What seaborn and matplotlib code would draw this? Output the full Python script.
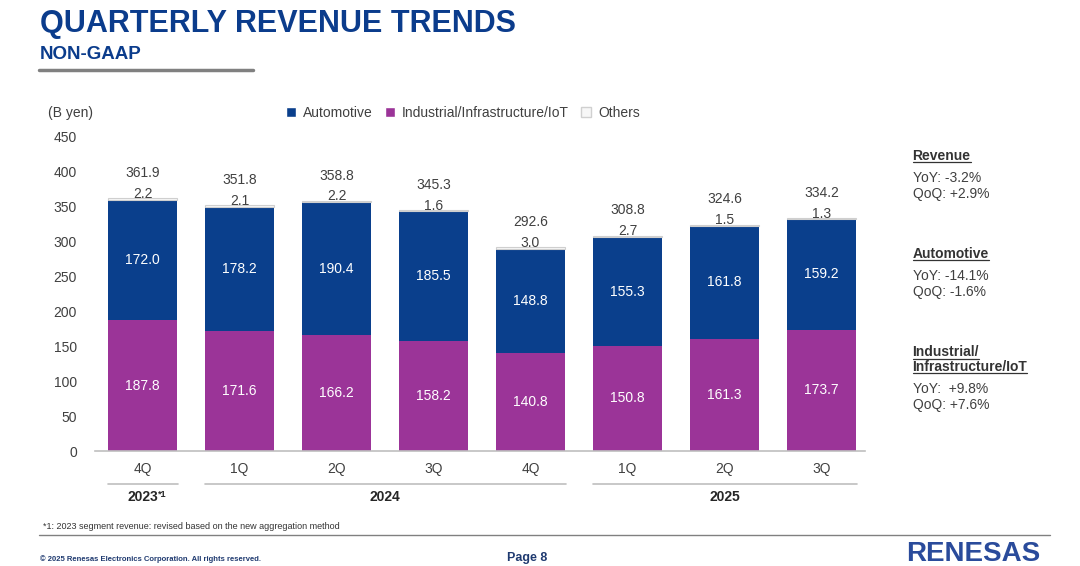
import matplotlib
matplotlib.use("Agg")
import matplotlib.pyplot as plt
import matplotlib.transforms as mtransforms
from matplotlib.lines import Line2D
from matplotlib.patches import Patch
import seaborn as sns
import pandas as pd

# ---- data ----
periods = ["4Q23", "1Q24", "2Q24", "3Q24", "4Q24", "1Q25", "2Q25", "3Q25"]
quarter_labels = ["4Q", "1Q", "2Q", "3Q", "4Q", "1Q", "2Q", "3Q"]
industrial = [187.8, 171.6, 166.2, 158.2, 140.8, 150.8, 161.3, 173.7]
automotive = [172.0, 178.2, 190.4, 185.5, 148.8, 155.3, 161.8, 159.2]
others = [2.2, 2.1, 2.2, 1.6, 3.0, 2.7, 1.5, 1.3]
totals = [361.9, 351.8, 358.8, 345.3, 292.6, 308.8, 324.6, 334.2]
year_names = ["2023", "2024", "2025"]
year_spans = [(0, 0), (1, 4), (5, 7)]
yticks = [0, 50, 100, 150, 200, 250, 300, 350, 400, 450]

side_notes = [
    ("Revenue", ["YoY: -3.2%", "QoQ: +2.9%"]),
    ("Automotive", ["YoY: -14.1%", "QoQ: -1.6%"]),
    ("Industrial/\nInfrastructure/IoT", ["YoY:  +9.8%", "QoQ: +7.6%"]),
]

BLUE = "#0a3f8c"
PURPLE = "#9b3498"
OTHER = "#f7f7f7"
TXT = "#404040"
TITLE_BLUE = "#0b3c8c"

df = pd.DataFrame({"period": periods, "ind": industrial, "auto": automotive, "oth": others})
df["ind_auto"] = df["ind"] + df["auto"]

sns.set_theme(style="white")
plt.rcParams["font.family"] = ["Liberation Sans", "DejaVu Sans"]
NARROW = ["Liberation Sans Narrow", "Liberation Sans", "DejaVu Sans"]

fig = plt.figure(figsize=(10.8, 5.66), dpi=100)
ax = fig.add_axes([0.088, 0.203, 0.713, 0.555])

w = 0.71
sns.barplot(data=df, x="period", y="ind", color=PURPLE, width=w, ax=ax,
            saturation=1, linewidth=0)
sns.barplot(data=df, x="period", y="auto", bottom=df["ind"], color=BLUE, width=w,
            ax=ax, saturation=1, linewidth=0)
sns.barplot(data=df, x="period", y="oth", bottom=df["ind_auto"], color=OTHER, width=w,
            ax=ax, saturation=1, linewidth=0.8, edgecolor="#cfcfcf")

ax.set_ylim(0, 450)
ax.set_xlim(-0.49, 7.45)
ax.set_yticks(yticks)
ax.set_yticklabels([str(v) for v in yticks], fontsize=10, color=TXT)
ax.set_xticks(range(len(periods)))
ax.set_xticklabels(quarter_labels, fontsize=10, color=TXT)
ax.tick_params(axis="y", length=0, pad=13)
ax.tick_params(axis="x", length=0, pad=8)
ax.set_xlabel("")
ax.set_ylabel("")
for s in ["top", "right", "left"]:
    ax.spines[s].set_visible(False)
ax.spines["bottom"].set_color("#bfbfbf")
ax.spines["bottom"].set_linewidth(1.2)

# value labels
for i in range(len(periods)):
    ax.text(i, industrial[i] / 2, f"{industrial[i]:.1f}", ha="center", va="center",
            color="white", fontsize=10)
    ax.text(i, industrial[i] + automotive[i] / 2, f"{automotive[i]:.1f}", ha="center",
            va="center", color="white", fontsize=10)
    top = industrial[i] + automotive[i] + others[i]
    ax.annotate(f"{others[i]:.1f}", (i, top), xytext=(0, -2), textcoords="offset points",
                ha="center", va="bottom", color=TXT, fontsize=10)
    ax.annotate(f"{totals[i]:.1f}", (i, top), xytext=(0, 13), textcoords="offset points",
                ha="center", va="bottom", color=TXT, fontsize=10)

# year groups
trans = mtransforms.blended_transform_factory(ax.transData, ax.transAxes)
for name, (a, b) in zip(year_names, year_spans):
    ax.add_line(Line2D([a - 0.36, b + 0.37], [-0.105, -0.105], transform=trans,
                       color="#bfbfbf", lw=1.2, clip_on=False))
    t = ax.text((a + b) / 2, -0.145, name, transform=trans, ha="center", va="center",
                fontsize=10, fontweight="bold", color="#262626", family=NARROW)
    if name == "2023":
        ax.annotate("*1", xy=(1, 1), xycoords=t, ha="left", va="top", fontsize=6.5,
                    fontweight="bold", color="#262626")

# legend
handles = [Patch(facecolor=BLUE), Patch(facecolor=PURPLE),
           Patch(facecolor=OTHER, edgecolor="#d0d0d0")]
fig.legend(handles, ["Automotive", "Industrial/Infrastructure/IoT", "Others"],
           loc="center", bbox_to_anchor=(0.4287, 0.8), ncol=3, frameon=False,
           fontsize=10, handlelength=0.7, handleheight=0.7, handletextpad=0.5,
           columnspacing=0.9, labelcolor=TXT)
fig.text(0.044, 0.8, "(B yen)", fontsize=10, color=TXT, va="center")

# title block
fig.text(0.037, 0.958, "QUARTERLY REVENUE TRENDS", fontsize=22, fontweight="bold",
         color=TITLE_BLUE, va="center", family=NARROW)
fig.text(0.037, 0.903, "NON-GAAP", fontsize=13.5, fontweight="bold", color=TITLE_BLUE,
         va="center", family=NARROW)
fig.add_artist(Line2D([0.036, 0.234], [0.876, 0.876], color="#808080", lw=2.5))

# side notes
ys = [0.737, 0.563, 0.390]
for (head, lines), y in zip(side_notes, ys):
    h = fig.text(0.845, y, head, fontsize=10, fontweight="bold", color="#333333",
                 va="top", linespacing=1.1)
    n_head = head.count("\n") + 1
    body_y = y - 0.026 * n_head - 0.013
    fig.text(0.845, body_y, "\n".join(lines), fontsize=10, color=TXT, va="top",
             linespacing=1.15)
    fig.canvas.draw()
    r = fig.canvas.get_renderer()
    bb = h.get_window_extent(r).transformed(fig.transFigure.inverted())
    # underline each heading line
    step = (bb.y1 - bb.y0) / n_head
    for k in range(n_head):
        yy = bb.y1 - step * (k + 1) + 0.002
        tmp = fig.text(0, 0, head.split("\n")[k], fontsize=10, fontweight="bold")
        lw_ = tmp.get_window_extent(r).transformed(fig.transFigure.inverted()).width
        tmp.remove()
        fig.add_artist(Line2D([bb.x0, bb.x0 + lw_], [yy, yy], color="#333333", lw=0.9))

# footer
fig.text(0.040, 0.070, "*1: 2023 segment revenue: revised based on the new aggregation method",
         fontsize=6.5, color="#333333", va="center")
fig.add_artist(Line2D([0.036, 0.972], [0.055, 0.055], color="#808080", lw=1))
fig.text(0.037, 0.013, "\u00a9 2025 Renesas Electronics Corporation. All rights reserved.",
         fontsize=5.5, fontweight="bold", color="#1f3a70", va="center", family=NARROW)
fig.text(0.488, 0.015, "Page 8", fontsize=9, fontweight="bold", color="#1f3a70",
         ha="center", va="center", family=NARROW)
fig.text(0.963, 0.008, "RENESAS", fontsize=20, fontweight="bold", color="#2a4b9b",
         ha="right", va="baseline")

fig.savefig("out.png", dpi=100)
